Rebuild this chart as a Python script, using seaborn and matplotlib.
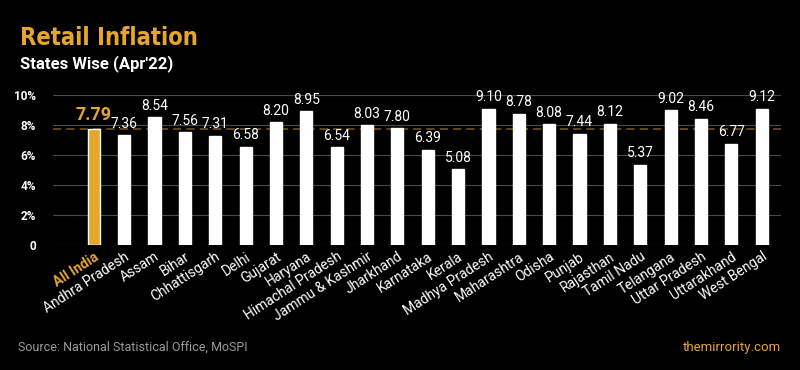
import matplotlib
matplotlib.use('Agg')
import matplotlib.pyplot as plt
import seaborn as sns

# values (CPI inflation, April 2022, %)
states = ['All India', 'Andhra Pradesh', 'Assam', 'Bihar', 'Chhattisgarh', 'Delhi',
          'Gujarat', 'Haryana', 'Himachal Pradesh', 'Jammu & Kashmir', 'Jharkhand',
          'Karnataka', 'Kerala', 'Madhya Pradesh', 'Maharashtra', 'Odisha', 'Punjab',
          'Rajasthan', 'Tamil Nadu', 'Telangana', 'Uttar Pradesh', 'Uttarakhand',
          'West Bengal']
inflation = [7.79, 7.36, 8.54, 7.56, 7.31, 6.58, 8.20, 8.95, 6.54, 8.03, 7.80,
             6.39, 5.08, 9.10, 8.78, 8.08, 7.44, 8.12, 5.37, 9.02, 8.46, 6.77, 9.12]
y_ticks = [0, 2, 4, 6, 8, 10]
y_tick_labels = ['0', '2%', '4%', '6%', '8%', '10%']

gold = '#E8A52C'
bg = '#000000'

sns.set_theme(style='dark')
plt.rcParams['font.family'] = ['Roboto', 'DejaVu Sans']

fig = plt.figure(figsize=(8, 3.7), dpi=100, facecolor=bg)
ax = fig.add_axes([0.066, 0.3365, 0.91, 0.4055])
ax.set_facecolor(bg)

colors = [gold] + ['#FFFFFF'] * (len(states) - 1)
sns.barplot(x=states, y=inflation, hue=states, palette=colors, legend=False,
            width=0.4, saturation=1, ax=ax, zorder=3)

ax.set_ylim(0, 10)
ax.set_xlim(-1.35, len(states) - 1 + 0.63)
ax.set_yticks(y_ticks)
ax.set_yticklabels(y_tick_labels, color='white', fontsize=8.5, fontweight='bold')
for y in y_ticks:
    ax.axhline(y, color='#4a4a4a', linewidth=0.8, zorder=1)

# All India reference line
ax.axhline(inflation[0], color='#6e5220', linewidth=1.2, linestyle=(0, (5, 3)), zorder=2)

ax.tick_params(axis='y', length=0, pad=12)
ax.tick_params(axis='x', length=0, pad=3)
ax.set_xticks(range(len(states)))
ax.set_xticklabels(states, rotation=33, ha='right', rotation_mode='anchor',
                   fontsize=10, color='white')
xt = ax.get_xticklabels()[0]
xt.set_color(gold)
xt.set_fontweight('bold')

for s in ax.spines.values():
    s.set_visible(False)
ax.set_xlabel('')
ax.set_ylabel('')
ax.grid(False)

# value labels
for i, (bar, v) in enumerate(zip(ax.patches, inflation)):
    cx = bar.get_x() + bar.get_width() / 2
    if i == 0:
        ax.text(cx, v + 0.3, f'{v:.2f}', ha='center', va='bottom', color=gold,
                fontsize=13, fontweight='bold', clip_on=False)
    else:
        ax.text(cx, v + 0.3, f'{v:.2f}', ha='center', va='bottom', color='white',
                fontsize=10, clip_on=False)

fig.text(0.025, 0.878, 'Retail Inflation', color=gold, fontsize=17, fontweight='bold',
         family='DejaVu Sans', fontstretch='condensed', va='baseline')
fig.text(0.025, 0.816, "States Wise (Apr'22)", color='white', fontsize=12,
         fontweight='bold', va='baseline')
fig.text(0.0225, 0.062, 'Source: National Statistical Office, MoSPI', color='#9a9a9a',
         fontsize=9, va='center')
fig.text(0.976, 0.062, 'themirrority.com', color=gold, fontsize=9.5, ha='right', va='center')

fig.savefig('out.png', dpi=100, facecolor=bg)
